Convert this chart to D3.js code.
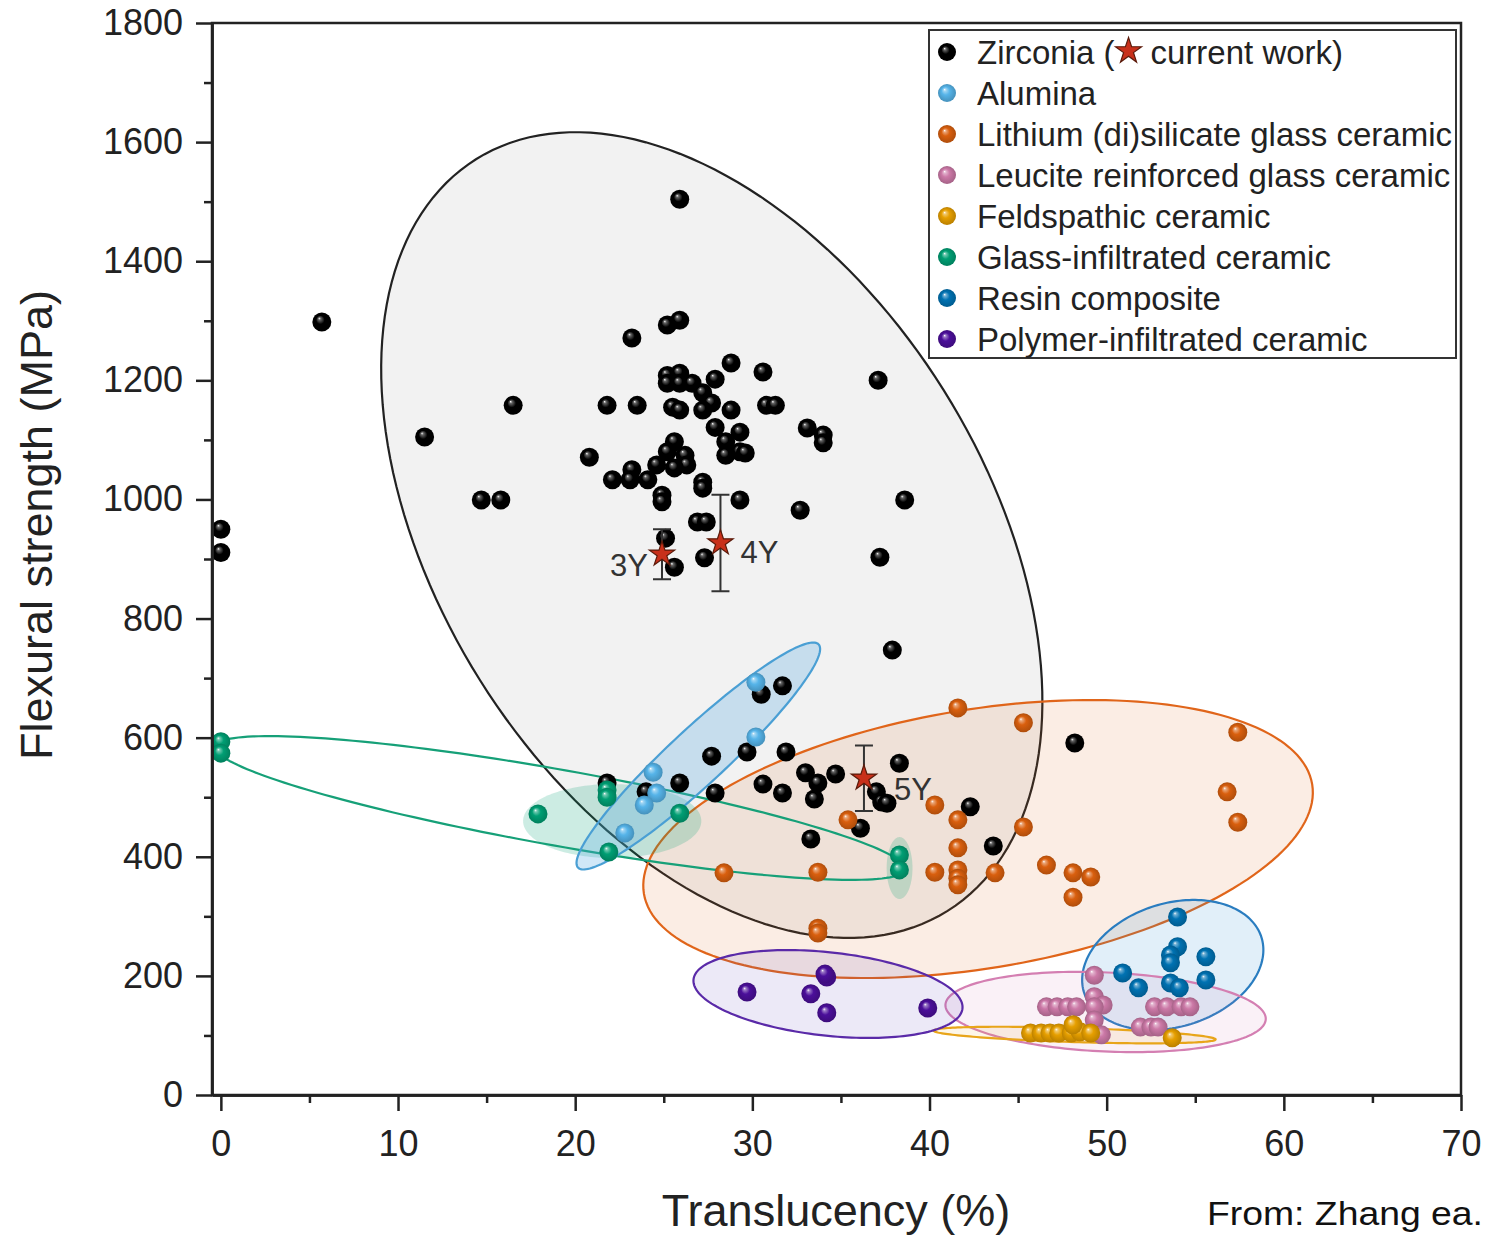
<!DOCTYPE html>
<html>
<head>
<meta charset="utf-8">
<script src="https://cdn.jsdelivr.net/npm/d3@7"></script>
<style>
  html, body { margin: 0; padding: 0; background: #fff; }
  svg { display: block; }
  text { font-family: "Liberation Sans", Arial, sans-serif; fill: #222; }
</style>
</head>
<body>
<div id="main"></div>
<script>
// series values: [translucency %, flexural strength MPa]
const seriesNames = [
  "Zirconia",
  "Alumina",
  "Lithium (di)silicate glass ceramic",
  "Leucite reinforced glass ceramic",
  "Feldspathic ceramic",
  "Glass-infiltrated ceramic",
  "Resin composite",
  "Polymer-infiltrated ceramic"
];

const zirconia = [
  [5.7, 1298], [0, 950], [0, 911], [11.5, 1105], [14.7, 999], [15.8, 999], [16.5, 1158],
  [20.8, 1071], [21.8, 1158], [23.2, 1271], [23.5, 1158], [25.2, 1293], [25.9, 1301],
  [25.9, 1504], [28.8, 1229], [30.6, 1214], [37.1, 1200], [25.2, 1208], [25.9, 1212],
  [25.2, 1195], [25.9, 1195], [26.6, 1195], [27.9, 1202], [27.2, 1179], [27.7, 1162],
  [27.2, 1150], [28.8, 1150], [25.5, 1155], [25.9, 1150], [30.8, 1158], [31.3, 1158],
  [33.1, 1120], [34.0, 1108], [34.0, 1095], [27.9, 1121], [29.3, 1113], [28.5, 1097],
  [29.3, 1080], [28.5, 1074], [29.6, 1078], [25.6, 1097], [25.2, 1080], [26.2, 1074],
  [26.3, 1058], [25.6, 1053], [24.6, 1058], [23.2, 1050], [22.1, 1033], [23.1, 1033],
  [24.1, 1033], [27.2, 1029], [27.2, 1019], [24.9, 1007], [24.9, 996], [29.3, 999],
  [32.7, 982], [38.6, 999], [26.9, 962], [27.4, 962], [25.1, 935], [25.6, 886],
  [27.3, 902], [37.2, 903], [37.9, 747], [30.5, 673], [31.7, 687], [27.7, 569],
  [29.7, 576], [31.9, 576], [21.8, 524], [25.9, 524], [27.9, 507], [30.6, 522],
  [31.7, 507], [33.0, 541], [33.7, 524], [33.5, 497], [34.7, 539], [38.3, 557],
  [37.0, 509], [37.3, 492], [37.6, 490], [36.1, 448], [33.3, 430], [42.3, 484],
  [43.6, 418], [48.2, 591], [24.0, 509]
];
const alumina = [[30.2, 693], [30.2, 601], [24.4, 542], [24.6, 507], [23.9, 487], [22.8, 440]];
const lithium = [
  [41.6, 650], [45.3, 625], [40.3, 487], [35.4, 462], [41.6, 462], [45.3, 450], [41.6, 415],
  [40.3, 374], [41.6, 378], [41.6, 364], [41.6, 353], [43.7, 373], [28.4, 373], [33.7, 374],
  [33.7, 280], [33.7, 272], [46.6, 386], [48.1, 373], [49.1, 366], [48.1, 332],
  [57.4, 609], [56.8, 509], [57.4, 458]
];
const leucite = [
  [49.3, 201], [46.6, 148], [47.2, 148], [47.8, 148], [48.3, 148], [49.3, 165], [49.8, 151],
  [49.3, 148], [49.3, 126], [49.7, 101], [52.7, 148], [53.4, 148], [54.2, 148], [54.7, 148],
  [51.9, 114], [52.5, 114], [52.9, 114]
];
const feldspathic = [
  [45.7, 104], [46.3, 104], [46.8, 104], [47.3, 104], [48.0, 104], [48.5, 106], [49.1, 104],
  [48.1, 118], [53.7, 96]
];
const glassInf = [
  [0, 593], [0, 574], [17.9, 472], [21.8, 512], [21.8, 500], [25.9, 473], [21.9, 408],
  [38.3, 403], [38.3, 378]
];
const resin = [
  [54.0, 299], [54.0, 249], [53.6, 235], [53.6, 222], [55.6, 232], [50.9, 205], [51.8, 180],
  [53.6, 188], [54.1, 180], [55.6, 193]
];
const polymer = [[29.7, 173], [33.3, 170], [34.2, 198], [34.2, 138], [39.9, 146], [34.1, 203]];

// current work (stars with error bars)
const workLabels = ["3Y", "4Y", "5Y"];
const workX = [24.9, 28.2, 36.3];
const workY = [908, 927, 532];
const workErr = [42, 81, 55];

// group regions in data units: centre and two conjugate semi-axes
const regions = [
  { s: 0, c: [27.71, 940.2], u: [13.31, -631.0], v: [-13.08, -243.8], stroke: true },
  { s: 2, c: [42.74, 429.8], u: [18.86, 91.8], v: [1.182, -214.6], stroke: true },
  { s: 6, c: [53.73, 218.3], u: [5.01, 46.1], v: [1.03, -99.0], stroke: true },
  { s: 3, c: [49.94, 139.4], u: [9.04, -12.2], v: [-0.101, -66.3], stroke: true },
  { s: 4, c: [48.19, 100.7], u: [7.96, -7.4], v: [-0.012, -11.8], stroke: true },
  { s: 7, c: [34.27, 169.6], u: [7.59, -24.5], v: [-0.254, -69.6], stroke: true },
  { s: 5, c: [22.09, 460.0], u: [5.03, 0], v: [0, 62.1], stroke: false },
  { s: 5, c: [38.31, 381.1], u: [0.73, 0], v: [0, 52.0], stroke: false },
  { s: 5, c: [19.15, 481.9], u: [19.47, -103.1], v: [-0.377, -62.8], stroke: true, nofill: true },
  { s: 1, c: [26.95, 569.2], u: [6.79, 187.4], v: [1.077, -34.4], stroke: true }
];

const xTicks = d3.range(0, 71, 10);
const yTicks = d3.range(0, 1801, 200);

const colors = ["#000000", "#56b4e9", "#d95f0e", "#cc79a7", "#e69f00", "#009e73", "#0072b2", "#4b0f9a"];
const strokes = ["#222222", "#4a9fd4", "#e0651a", "#d47fb2", "#e8a51a", "#16a078", "#2a7dc0", "#5a2aa8"];
const fills = [
  "rgba(0,0,0,0.05)", "rgba(86,170,225,0.28)", "rgba(225,110,30,0.12)", "rgba(210,120,175,0.10)",
  "rgba(235,170,30,0.10)", "rgba(0,160,115,0.20)", "rgba(40,140,210,0.14)", "rgba(100,70,190,0.12)"
];
const allSeries = [zirconia, alumina, lithium, leucite, feldspathic, glassInf, resin, polymer];

const width = 1489, height = 1236;
const mLeft = 212, mRight = 1461, mTop = 23, mBottom = 1095;

const x = d3.scaleLinear().domain([-0.5, 70]).range([mLeft, mRight]);
const y = d3.scaleLinear().domain([0, 1800]).range([mBottom, mTop]);

const svg = d3.select("#main").append("svg").attr("width", width).attr("height", height);

// ball gradients
const defs = svg.append("defs");
colors.forEach((c, i) => {
  const g = defs.append("radialGradient").attr("id", "ball" + i)
    .attr("cx", "50%").attr("cy", "50%").attr("r", "50%")
    .attr("fx", "36%").attr("fy", "30%");
  const col = d3.color(c);
  const light = i === 0 ? "#666" : d3.interpolateRgb(c, "#fff")(0.45);
  const dark = i === 0 ? "#000" : col.darker(0.6).formatHex();
  g.append("stop").attr("offset", "0%").attr("stop-color", "#fff");
  g.append("stop").attr("offset", "14%").attr("stop-color", light);
  g.append("stop").attr("offset", "45%").attr("stop-color", c);
  g.append("stop").attr("offset", "100%").attr("stop-color", dark);
});

// plot frame
svg.append("rect")
  .attr("x", mLeft).attr("y", mTop)
  .attr("width", mRight - mLeft).attr("height", mBottom - mTop)
  .attr("fill", "none").attr("stroke", "#222").attr("stroke-width", 2.5);

// regions
const ell = d3.line().curve(d3.curveLinearClosed);
const ts = d3.range(0, 2 * Math.PI, Math.PI / 90);
const gReg = svg.append("g");
regions.forEach((r) => {
  const pts = ts.map((t) => [
    x(r.c[0] + r.u[0] * Math.cos(t) + r.v[0] * Math.sin(t)),
    y(r.c[1] + r.u[1] * Math.cos(t) + r.v[1] * Math.sin(t))
  ]);
  gReg.append("path")
    .attr("d", ell(pts))
    .attr("fill", r.nofill ? "none" : fills[r.s])
    .attr("stroke", r.stroke ? strokes[r.s] : "none")
    .attr("stroke-width", 2.2);
});

// points
const gPts = svg.append("g");
allSeries.forEach((data, i) => {
  gPts.append("g")
    .selectAll("circle")
    .data(data)
    .enter()
    .append("circle")
    .attr("cx", (d) => x(d[0]))
    .attr("cy", (d) => y(d[1]))
    .attr("r", 9.5)
    .attr("fill", `url(#ball${i})`);
});

// current work
const star = d3.symbol().type(d3.symbolStar).size(200);
const labelPos = [
  { dx: -14, dy: 22, anchor: "end" },
  { dx: 20, dy: 20, anchor: "start" },
  { dx: 30, dy: 22, anchor: "start" }
];
const gWork = svg.append("g");
workLabels.forEach((lab, i) => {
  const cx = x(workX[i]);
  const y0 = y(workY[i] - workErr[i]);
  const y1 = y(workY[i] + workErr[i]);
  gWork.append("path")
    .attr("d", `M${cx},${y0}V${y1}M${cx - 9},${y0}H${cx + 9}M${cx - 9},${y1}H${cx + 9}`)
    .attr("stroke", "#333").attr("stroke-width", 2).attr("fill", "none");
  gWork.append("path")
    .attr("d", star())
    .attr("transform", `translate(${cx},${y(workY[i])})`)
    .attr("fill", "#c8301a").attr("stroke", "#5a1a0a").attr("stroke-width", 1.2);
  gWork.append("text")
    .attr("x", cx + labelPos[i].dx)
    .attr("y", y(workY[i]) + labelPos[i].dy)
    .attr("text-anchor", labelPos[i].anchor)
    .attr("font-size", 31)
    .style("fill", "#333")
    .text(lab);
});

// axes
svg.append("g")
  .attr("transform", `translate(${mLeft},0)`)
  .call(d3.axisLeft(y).tickValues(yTicks).tickFormat(d3.format("d"))
    .tickSize(16).tickSizeOuter(0).tickPadding(13));
svg.append("g")
  .attr("transform", `translate(${mLeft},0)`)
  .call(d3.axisLeft(y).tickValues(d3.range(100, 1800, 200)).tickSize(8).tickSizeOuter(0).tickFormat(""));
svg.append("g")
  .attr("transform", `translate(0,${mBottom})`)
  .call(d3.axisBottom(x).tickValues(xTicks).tickSize(16).tickSizeOuter(0).tickPadding(19));
svg.append("g")
  .attr("transform", `translate(0,${mBottom})`)
  .call(d3.axisBottom(x).tickValues(d3.range(5, 70, 10)).tickSize(8).tickSizeOuter(0).tickFormat(""));

svg.selectAll(".domain").attr("stroke", "#222").attr("stroke-width", 2.5);
svg.selectAll(".tick line").attr("stroke", "#222").attr("stroke-width", 2.5);
svg.selectAll(".tick text")
  .attr("font-family", "'Liberation Sans', Arial, sans-serif")
  .attr("font-size", 36)
  .style("fill", "#222");

// axis titles
svg.append("text")
  .attr("transform", "translate(52,525) rotate(-90)")
  .attr("text-anchor", "middle")
  .attr("font-size", 45)
  .text("Flexural strength (MPa)");
svg.append("text")
  .attr("x", 836).attr("y", 1226)
  .attr("text-anchor", "middle")
  .attr("font-size", 45)
  .text("Translucency (%)");

// legend
const lg = svg.append("g");
lg.append("rect")
  .attr("x", 929).attr("y", 30).attr("width", 527).attr("height", 328)
  .attr("fill", "#fff").attr("stroke", "#333").attr("stroke-width", 2);
seriesNames.forEach((name, i) => {
  const ly = 52 + i * 41;
  lg.append("circle").attr("cx", 947).attr("cy", ly).attr("r", 9).attr("fill", `url(#ball${i})`);
  if (i === 0) {
    const t1 = lg.append("text").attr("x", 977).attr("y", ly).attr("dy", "0.35em")
      .attr("font-size", 33).text(name + " (");
    const w1 = t1.node().getComputedTextLength();
    lg.append("path")
      .attr("d", d3.symbol().type(d3.symbolStar).size(210)())
      .attr("transform", `translate(${977 + w1 + 14},${ly - 1})`)
      .attr("fill", "#c8301a").attr("stroke", "#5a1a0a").attr("stroke-width", 1.2);
    lg.append("text").attr("x", 977 + w1 + 36).attr("y", ly).attr("dy", "0.35em")
      .attr("font-size", 33).text("current work)");
  } else {
    lg.append("text").attr("x", 977).attr("y", ly).attr("dy", "0.35em")
      .attr("font-size", 33).text(name);
  }
});

// source note
svg.append("text")
  .attr("x", 1207).attr("y", 1225)
  .attr("font-family", "'Open Sans', 'Noto Sans', sans-serif")
  .attr("font-size", 33)
  .attr("textLength", 276)
  .attr("lengthAdjust", "spacingAndGlyphs")
  .style("fill", "#111")
  .text("From: Zhang ea.");
</script>
</body>
</html>
